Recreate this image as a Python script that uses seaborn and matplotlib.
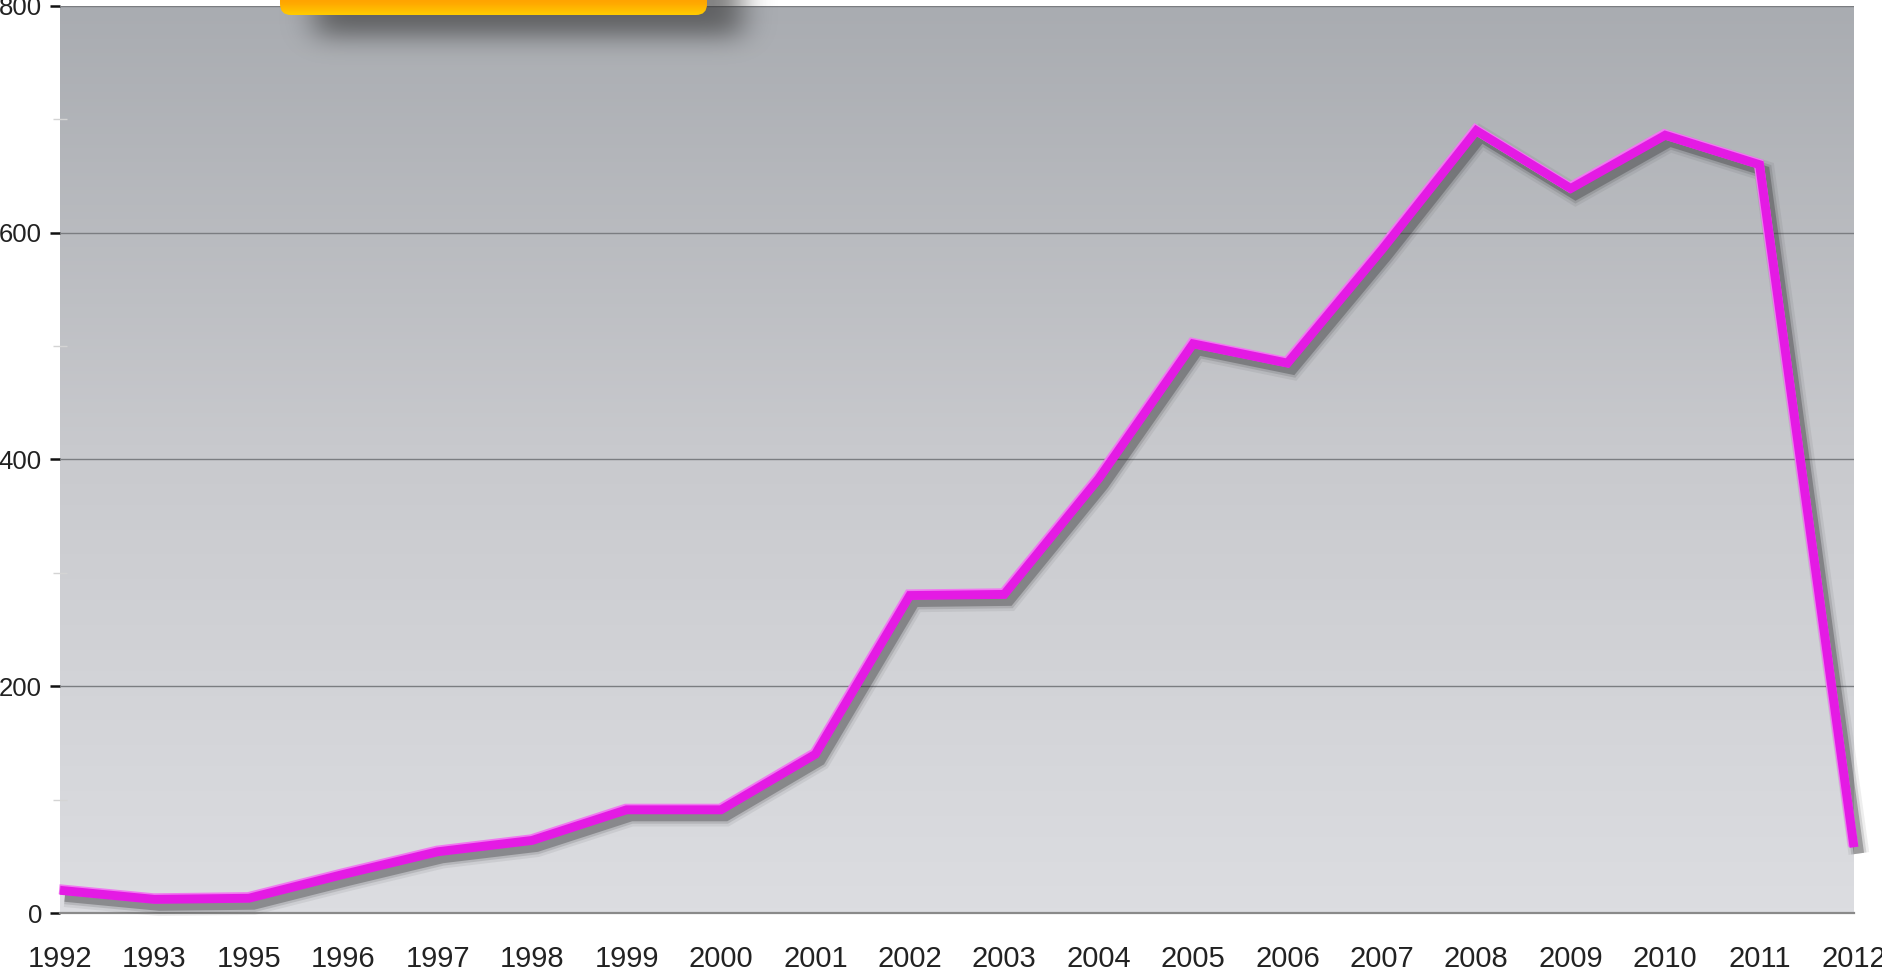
import numpy as np
import pandas as pd
import matplotlib
matplotlib.use("Agg")
import matplotlib.pyplot as plt
import seaborn as sns
from matplotlib import patheffects as pe
from matplotlib.patches import FancyBboxPatch
from matplotlib.colors import LinearSegmentedColormap

# ---- data ----
years = ["1992", "1993", "1995", "1996", "1997", "1998", "1999", "2000", "2001", "2002",
         "2003", "2004", "2005", "2006", "2007", "2008", "2009", "2010", "2011", "2012"]
values = [20, 12, 13, 34, 54, 64, 91, 91, 140, 280,
          281, 383, 502, 485, 585, 690, 639, 686, 660, 58]
major_ticks = [0, 200, 400, 600, 800]
minor_ticks = [100, 300, 500, 700]

sns.set_style("white")
plt.rcParams["font.family"] = ["Liberation Sans Narrow", "Liberation Sans", "DejaVu Sans"]

W, H = 1883, 980
fig = plt.figure(figsize=(W / 100, H / 100), dpi=100)
fig.patch.set_facecolor("white")
ax = fig.add_axes([60 / W, 1 - 913 / H, (1854 - 60) / W, (913 - 6) / H])

n = len(years)
df = pd.DataFrame({"pos": np.arange(n), "value": values})

# vertical gradient plot background
grad = np.linspace(0, 1, 256).reshape(-1, 1)
bg_cmap = LinearSegmentedColormap.from_list("bg", ["#a9acb1", "#c9cace", "#dcdde1"])
ax.imshow(grad, aspect="auto", cmap=bg_cmap, extent=(0, n - 1, 0, 800),
          origin="upper", zorder=0, interpolation="bicubic")

# horizontal grid lines
for v in [200, 400, 600, 800]:
    ax.axhline(v, color="#7b7d81", lw=1.0, zorder=1)

# main series with soft drop shadow
shadow = [
    pe.SimpleLineShadow(offset=(3.5, -4.5), shadow_color="#2e2e30", alpha=0.08, linewidth=15),
    pe.SimpleLineShadow(offset=(3.5, -4.5), shadow_color="#2e2e30", alpha=0.14, linewidth=11),
    pe.SimpleLineShadow(offset=(3.5, -4.5), shadow_color="#2e2e30", alpha=0.32, linewidth=7.5),
    pe.Stroke(linewidth=7.2, foreground="#f078f0", offset=(-0.6, 0.8)),
    pe.Normal(),
]
sns.lineplot(data=df, x="pos", y="value", ax=ax, color="#e41ae4", linewidth=6.4,
             solid_joinstyle="miter", solid_capstyle="butt", clip_on=False,
             path_effects=shadow, zorder=3)

ax.set_xlim(0, n - 1)
ax.set_ylim(0, 800)
ax.set_xlabel("")
ax.set_ylabel("")

ax.set_xticks(np.arange(n))
ax.set_xticklabels(years)
ax.set_yticks(major_ticks)
ax.set_yticks(minor_ticks, minor=True)
ax.tick_params(axis="x", length=0, pad=23, labelsize=21, labelcolor="#222222")
ax.tick_params(axis="y", which="major", left=True, length=7, width=1.8, color="#111111",
               pad=6, labelsize=18.5, labelcolor="#222222")
ax.tick_params(axis="y", which="minor", left=True, length=10, width=1, color="#d4d4d4",
               direction="inout")

for side in ["top", "right", "left"]:
    ax.spines[side].set_visible(False)
ax.spines["bottom"].set_color("#8a8a8a")
ax.spines["bottom"].set_linewidth(1.6)
ax.spines["bottom"].set_zorder(2)

# overlay in pixel coordinates for the header tab and its shadow
ov = fig.add_axes([0, 0, 1, 1])
ov.set_xlim(0, W)
ov.set_ylim(H, 0)
ov.axis("off")
ov.patch.set_alpha(0)


def blur1d(a, sigma, axis):
    r = int(3 * sigma)
    k = np.exp(-0.5 * (np.arange(-r, r + 1) / sigma) ** 2)
    k /= k.sum()
    return np.apply_along_axis(lambda m: np.convolve(m, k, mode="same"), axis, a)


sx0, sx1, sy0, sy1 = 240, 800, -40, 100
mask = np.zeros((sy1 - sy0, sx1 - sx0))
mask[(-30 - sy0):(36 - sy0), (315 - sx0):(742 - sx0)] = 1.0
mask = blur1d(blur1d(mask, 12, 0), 15, 1)
rgba = np.zeros(mask.shape + (4,))
rgba[..., :3] = 0.2
rgba[..., 3] = mask * 0.62
ov.imshow(rgba, extent=(sx0, sx1, sy1, sy0), aspect="auto", zorder=1,
          interpolation="bilinear")

tab = FancyBboxPatch((280, -20), 427, 35, boxstyle="round,pad=0,rounding_size=11",
                     facecolor="none", edgecolor="none", zorder=2)
ov.add_patch(tab)
tab_grad = np.linspace(0, 1, 64).reshape(-1, 1)
tab_cmap = LinearSegmentedColormap.from_list("tab", ["#ff9000", "#ff9a00", "#ffa800", "#ffcc00"])
im = ov.imshow(tab_grad, extent=(280, 707, 15, -20), aspect="auto", cmap=tab_cmap,
               zorder=2, interpolation="bicubic")
im.set_clip_path(tab)

fig.savefig("out.png", dpi=100, facecolor="white")
